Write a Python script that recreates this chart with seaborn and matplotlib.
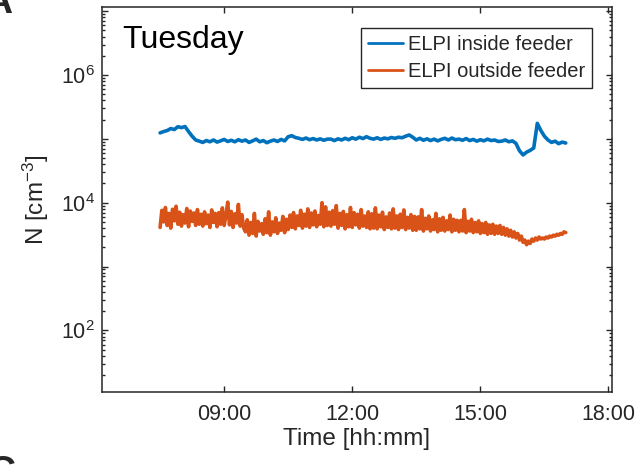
import numpy as np
import pandas as pd
import seaborn as sns
import matplotlib.pyplot as plt
import matplotlib.dates as mdates
from matplotlib.ticker import LogLocator, FuncFormatter, NullFormatter

# sampling: 07:30 .. 17:00 (inside every 5 min, outside every 2.5 min)
start_time = '07:30'
end_time = '17:00'
step_in = '5min'
step_out = '150s'

label_in = 'ELPI inside feeder'
label_out = 'ELPI outside feeder'

# particle number concentration [cm^-3]
inside = [
    1.24e5, 1.30e5, 1.35e5, 1.45e5, 1.40e5, 1.55e5, 1.50e5, 1.56e5, 1.30e5, 1.10e5, 9.6e4, 9.2e4,
    8.8e4, 9.4e4, 9.0e4, 9.6e4, 8.9e4, 9.3e4, 9.8e4, 9.1e4, 9.5e4, 9.0e4, 9.7e4, 9.2e4,
    9.6e4, 8.8e4, 9.3e4, 9.9e4, 9.0e4, 9.4e4, 8.7e4, 9.2e4, 9.6e4, 9.1e4, 9.8e4, 9.3e4,
    1.08e5, 1.12e5, 1.05e5, 1.02e5, 9.8e4, 1.03e5, 9.7e4, 1.01e5, 9.6e4, 1.00e5, 9.5e4, 9.9e4,
    9.9e4, 9.4e4, 1.00e5, 9.6e4, 1.02e5, 9.7e4, 1.04e5, 9.9e4, 1.06e5, 1.01e5, 1.08e5, 1.02e5,
    9.9e4, 1.04e5, 9.8e4, 1.03e5, 1.00e5, 1.05e5, 1.02e5, 1.06e5, 1.04e5, 1.10e5, 1.15e5, 1.06e5,
    9.6e4, 1.02e5, 9.5e4, 1.00e5, 9.4e4, 9.9e4, 9.3e4, 9.8e4, 1.02e5, 9.6e4, 1.03e5, 9.7e4,
    9.9e4, 9.5e4, 1.01e5, 9.4e4, 9.8e4, 9.2e4, 9.7e4, 9.3e4, 9.9e4, 9.4e4, 9.6e4, 9.1e4,
    9.2e4, 9.6e4, 9.0e4, 9.3e4, 8.5e4, 6.5e4, 5.6e4, 6.2e4, 6.6e4, 7.2e4, 1.75e5, 1.35e5,
    1.10e5, 9.6e4, 8.8e4, 9.2e4, 8.4e4, 8.9e4, 8.6e4,
]
outside = [
    # 07:30
    4.1e3, 7.6e3, 5.0e3, 8.4e3, 4.4e3, 6.8e3, 4.0e3, 7.9e3, 5.2e3, 8.8e3, 4.6e3, 7.1e3,
    4.3e3, 6.5e3, 4.8e3, 8.1e3, 4.2e3, 7.4e3, 5.1e3, 6.9e3, 4.4e3, 7.8e3, 4.6e3, 6.6e3,
    # 08:30
    4.3e3, 7.2e3, 4.7e3, 6.4e3, 4.1e3, 7.7e3, 4.9e3, 6.8e3, 4.2e3, 7.0e3, 4.6e3, 8.3e3,
    4.4e3, 6.2e3, 10.2e3, 4.5e3, 7.3e3, 4.1e3, 6.7e3, 4.8e3, 9.4e3, 4.3e3, 6.5e3, 4.0e3,
    # 09:30
    3.5e3, 5.4e3, 3.1e3, 4.9e3, 3.3e3, 6.8e3, 3.0e3, 5.1e3, 3.6e3, 4.7e3, 3.2e3, 5.6e3,
    3.4e3, 7.2e3, 3.1e3, 5.0e3, 3.5e3, 5.8e3, 3.3e3, 4.8e3, 3.7e3, 6.1e3, 3.4e3, 5.5e3,
    # 10:30
    3.8e3, 6.4e3, 4.1e3, 7.0e3, 3.9e3, 6.2e3, 4.4e3, 7.6e3, 4.0e3, 6.6e3, 4.3e3, 8.0e3,
    4.1e3, 6.9e3, 4.5e3, 7.4e3, 4.2e3, 6.3e3, 4.6e3, 10.0e3, 4.2e3, 8.6e3, 4.4e3, 7.1e3,
    # 11:30
    4.3e3, 7.5e3, 4.6e3, 9.0e3, 4.0e3, 6.8e3, 4.4e3, 7.3e3, 3.9e3, 6.5e3, 4.2e3, 8.4e3,
    4.1e3, 7.0e3, 4.5e3, 6.6e3, 4.0e3, 7.8e3, 4.3e3, 6.2e3, 4.1e3, 7.2e3, 3.9e3, 6.7e3,
    # 12:30
    4.0e3, 8.3e3, 3.9e3, 6.4e3, 4.2e3, 7.1e3, 3.8e3, 6.0e3, 4.1e3, 6.9e3, 3.9e3, 8.0e3,
    4.0e3, 6.2e3, 3.8e3, 6.6e3, 4.1e3, 7.7e3, 3.8e3, 5.9e3, 4.0e3, 6.5e3, 3.7e3, 6.1e3,
    # 13:30
    3.7e3, 6.0e3, 3.9e3, 7.8e3, 3.6e3, 5.7e3, 3.9e3, 6.2e3, 3.6e3, 5.4e3, 3.8e3, 6.8e3,
    3.5e3, 5.6e3, 3.7e3, 5.9e3, 3.6e3, 5.2e3, 3.8e3, 6.4e3, 3.5e3, 5.5e3, 3.7e3, 5.3e3,
    # 14:30
    3.5e3, 5.3e3, 3.6e3, 7.8e3, 3.4e3, 5.1e3, 3.6e3, 5.5e3, 3.4e3, 4.9e3, 3.5e3, 5.2e3,
    3.3e3, 4.7e3, 3.4e3, 4.9e3, 3.2e3, 4.5e3, 3.3e3, 4.6e3, 3.2e3, 4.3e3, 3.3e3, 4.4e3,
    # 15:30
    3.2e3, 4.1e3, 3.1e3, 3.9e3, 3.0e3, 3.7e3, 2.9e3, 3.5e3, 2.8e3, 3.3e3, 2.6e3, 3.0e3,
    2.4e3, 2.6e3, 2.2e3, 2.5e3, 2.3e3, 2.7e3, 2.5e3, 2.8e3, 2.6e3, 2.9e3, 2.7e3, 2.8e3,
    # 16:30
    2.7e3, 2.9e3, 2.8e3, 3.0e3, 2.9e3, 3.1e3, 3.0e3, 3.2e3, 3.1e3, 3.3e3, 3.2e3, 3.5e3,
    3.4e3,
]

day = '2019-01-01 '
times_in = pd.date_range(day + start_time, day + end_time, freq=step_in)
times_out = pd.date_range(day + start_time, day + end_time, freq=step_out)

df = pd.concat([
    pd.DataFrame({'time': times_in, 'N': inside, 'series': label_in}),
    pd.DataFrame({'time': times_out, 'N': outside, 'series': label_out}),
])

sns.set_theme(style='ticks')
plt.rcParams['font.family'] = ['Liberation Sans', 'DejaVu Sans']
plt.rcParams['mathtext.fontset'] = 'custom'
plt.rcParams['mathtext.rm'] = 'Liberation Sans'
plt.rcParams['mathtext.it'] = 'Liberation Sans:italic'
plt.rcParams['mathtext.bf'] = 'Liberation Sans:bold'

dark = '#262626'
colors = {label_in: '#0072BD', label_out: '#D95319'}

fig = plt.figure(figsize=(6.41, 4.69), dpi=100)
ax = fig.add_axes([0.1587, 0.1648, 0.7961, 0.8196])

sns.lineplot(data=df, x='time', y='N', hue='series', palette=colors,
             estimator=None, linewidth=2.6, ax=ax, legend=False)

ax.set_yscale('log')
ax.set_ylim(10 ** 1.04, 10 ** 7.06)
ax.set_xlim(pd.Timestamp(day + '06:08'), pd.Timestamp(day + '18:05'))

ax.xaxis.set_major_locator(mdates.HourLocator(byhour=[9, 12, 15, 18]))
ax.xaxis.set_major_formatter(mdates.DateFormatter('%H:%M'))

ax.yaxis.set_major_locator(LogLocator(base=10, numticks=20))
ax.yaxis.set_minor_locator(LogLocator(base=10, subs=np.arange(2, 10), numticks=20))
ax.yaxis.set_minor_formatter(NullFormatter())


def fmt_pow(v, pos):
    e = int(round(np.log10(v)))
    return r'$10^{%d}$' % e if e % 2 == 0 else ''


ax.yaxis.set_major_formatter(FuncFormatter(fmt_pow))

ax.tick_params(axis='both', which='both', direction='in', top=True, right=True,
               colors=dark, labelcolor=dark, width=1.0)
ax.tick_params(axis='both', which='major', length=4.5, labelsize=15.5)
ax.tick_params(axis='y', which='minor', length=2.5)
ax.tick_params(axis='x', which='major', pad=9)
ax.tick_params(axis='y', which='major', pad=5)
for sp in ax.spines.values():
    sp.set_color(dark)
    sp.set_linewidth(1.1)

ax.set_xlabel('Time [hh:mm]', fontsize=17.5, color=dark)
ax.set_ylabel(r'N [cm$^{-3}$]', fontsize=17.5, color=dark)
ax.xaxis.set_label_coords(0.5, -0.095)
ax.yaxis.set_label_coords(-0.10, 0.5)

ax.text(0.04, 0.894, 'Tuesday', transform=ax.transAxes, fontsize=23,
        va='baseline', ha='left', color='black')

leg = ax.legend(ax.lines[:2], [label_in, label_out], loc='upper right',
                bbox_to_anchor=(0.961, 0.946), borderaxespad=0, fontsize=14.5,
                frameon=True, fancybox=False, framealpha=1, edgecolor=dark,
                handlelength=1.75, handletextpad=0.25, labelspacing=0.4,
                borderpad=0.35)
leg.get_frame().set_linewidth(1.0)
for t in leg.get_texts():
    t.set_color(dark)
for h in leg.get_lines():
    h.set_linewidth(2.0)

# panel letters cut off at the figure edges
fig.text(12 / 641, 1 - 13 / 469, 'A', ha='right', va='baseline',
         fontsize=28, weight='bold')
fig.text(15 / 641, 1 - 455 / 469, 'C', ha='right', va='top',
         fontsize=28, weight='bold')

fig.savefig('out.png', dpi=100)
print('out.png saved')
